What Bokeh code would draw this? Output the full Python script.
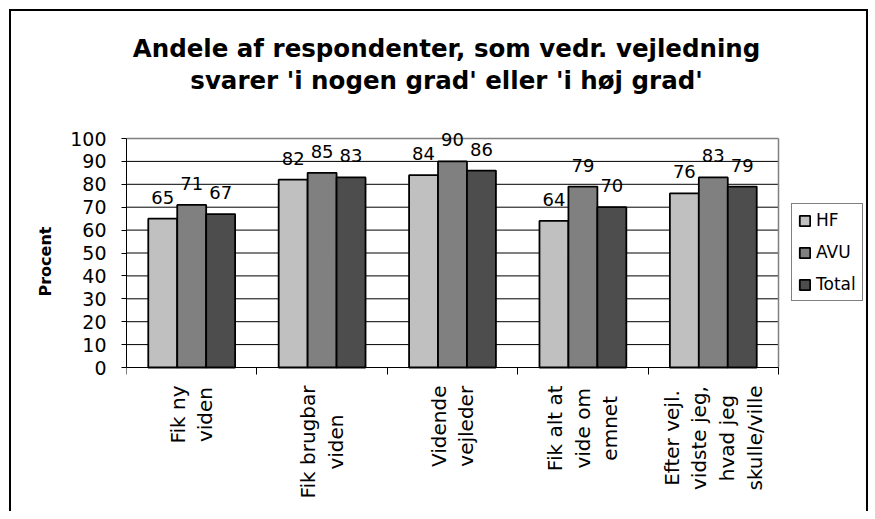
from bokeh.plotting import figure
from bokeh.models import (ColumnDataSource, FixedTicker, Legend, LegendItem,
                          LabelSet, Label)
from bokeh.core.properties import value
from bokeh.transform import dodge
from bokeh.embed import file_html
from bokeh.resources import INLINE
import math

# ---------------- data ----------------
categories = ["Fik ny\nviden", "Fik brugbar\nviden", "Vidende\nvejleder",
              "Fik alt at\nvide om\nemnet", "Efter vejl.\nvidste jeg,\nhvad jeg\nskulle/ville"]
series_names = ["HF", "AVU", "Total"]
hf = [65, 82, 84, 64, 76]
avu = [71, 85, 90, 79, 83]
total = [67, 83, 86, 70, 79]
y_ticks = [0, 10, 20, 30, 40, 50, 60, 70, 80, 90, 100]
title_lines = ["Andele af respondenter, som vedr. vejledning",
               "svarer 'i nogen grad' eller 'i høj grad'"]
y_label = "Procent"
colors = ["#C0C0C0", "#808080", "#4D4D4D"]

# ---------------- layout constants (pixels) ----------------
FONT = "DejaVu Sans"
FRAME_W, FRAME_H = 740, 500
PLOT_W = 652                      # width of the bar area (5 categories)
Y0_FROM_TOP = 356                 # pixel distance from frame top to value 0
PX_Y = 229 / 100.0                # pixels per percent
PX_X = PLOT_W / len(categories)   # pixels per category

xpos = list(range(1, len(categories) + 1))
bounds_x = [xpos[0] - 0.5] + [x + 0.5 for x in xpos]
x_start = bounds_x[0]
x_end = x_start + FRAME_W / PX_X
y_end = Y0_FROM_TOP / PX_Y
y_start = -(FRAME_H - Y0_FROM_TOP) / PX_Y


def y_at_px(px_from_frame_top):
    return (Y0_FROM_TOP - px_from_frame_top) / PX_Y


src = ColumnDataSource(data=dict(
    x=xpos, base=[y_ticks[0]] * len(xpos), cat=categories,
    HF=hf, AVU=avu, Total=total,
    HF_t=[str(v) for v in hf], AVU_t=[str(v) for v in avu], Total_t=[str(v) for v in total],
))

p = figure(frame_width=FRAME_W, frame_height=FRAME_H, x_range=(x_start, x_end),
           y_range=(y_start, y_end), title=None,
           output_backend="svg", toolbar_location=None,
           min_border_left=115, min_border_right=0, min_border_top=0, min_border_bottom=0)
p.styles = {"border-top": "2px solid black", "border-left": "2px solid black",
            "border-right": "2px solid black", "margin-top": "9px", "margin-left": "9px"}
p.outline_line_color = None
p.background_fill_color = "white"
p.border_fill_color = "white"
p.grid.visible = False

# plot-area grid lines (black) and grey border on top / right
inner = y_ticks[1:-1]
p.segment(x0=[bounds_x[0]] * len(inner), x1=[bounds_x[-1]] * len(inner), y0=inner, y1=inner,
          line_color="black", line_width=1)
p.segment(x0=[bounds_x[0], bounds_x[-1]], x1=[bounds_x[-1], bounds_x[-1]],
          y0=[y_ticks[-1], y_ticks[0]], y1=[y_ticks[-1], y_ticks[-1]],
          line_color="#808080", line_width=1.5)

# bars + value labels
w = 0.222
offsets = [-w, 0, w]
renderers = []
for name, col, off in zip(series_names, colors, offsets):
    r = p.vbar(x=dodge("x", off), top=name, width=w, source=src,
               fill_color=col, line_color="black", line_width=1.8)
    renderers.append(r)
    p.add_layout(LabelSet(x=dodge("x", off), y=name, text=name + "_t", source=src,
                          text_align="center", text_baseline="alphabetic", y_offset=15,
                          text_font=value(FONT), text_font_size=value("18px"),
                          text_color="black"))

# category labels (rotated, centre-justified, hanging below the x axis)
p.text(x="x", y="base", text="cat", source=src, angle=math.pi / 2,
       anchor="center_right", text_align="center", text_baseline="middle",
       y_offset=18, text_font=value(FONT), text_font_size=value("20px"),
       text_line_height=1.15, text_color="black")

# title
cx = (xpos[0] + xpos[-1]) / 2
for line, px in zip(title_lines, [48 - 11, 80 - 11]):
    p.add_layout(Label(x=cx, y=y_at_px(px), x_offset=-6, text=line,
                       text_align="center", text_baseline="alphabetic",
                       text_font=FONT, text_font_size="24.5px", text_font_style="bold",
                       text_color="black"))

# y axis
p.yaxis.ticker = FixedTicker(ticks=y_ticks, minor_ticks=[])
p.yaxis.bounds = (y_ticks[0], y_ticks[-1])
p.yaxis.axis_line_color = "black"
p.yaxis.major_tick_out = 5
p.yaxis.major_tick_in = 0
p.yaxis.minor_tick_line_color = None
p.yaxis.major_label_text_font = FONT
p.yaxis.major_label_text_font_size = "19px"
p.yaxis.major_label_text_color = "black"
p.yaxis.major_label_standoff = 15
p.yaxis.axis_label = y_label
p.yaxis.axis_label_text_font = FONT
p.yaxis.axis_label_text_font_size = "16px"
p.yaxis.axis_label_text_font_style = "bold"
p.yaxis.axis_label_text_color = "black"
p.yaxis.axis_label_standoff = 12

# x axis drawn at value 0, ticks at category boundaries
p.xaxis.fixed_location = y_ticks[0]
p.xaxis.bounds = (bounds_x[0], bounds_x[-1])
p.xaxis.ticker = FixedTicker(ticks=[], minor_ticks=bounds_x)
p.xaxis.major_tick_line_color = None
p.xaxis.major_tick_out = 0
p.xaxis.major_tick_in = 0
p.xaxis.major_label_standoff = 0
p.xaxis.major_label_text_font_size = "1px"
p.xaxis.minor_tick_line_color = "black"
p.xaxis.minor_tick_out = 7
p.xaxis.minor_tick_in = 0
p.xaxis.axis_line_color = "black"

legend = Legend(items=[LegendItem(label=n, renderers=[r]) for n, r in zip(series_names, renderers)],
                location=(665, 210), orientation="vertical", margin=0, padding=6,
                spacing=12, label_height=20, glyph_height=13, glyph_width=13,
                label_standoff=5, label_text_font=FONT, label_text_font_size="17px",
                label_text_color="black",
                border_line_color="black", border_line_width=1,
                background_fill_color="white", background_fill_alpha=1)
p.add_layout(legend, "center")

open("out.html", "w").write(file_html(p, INLINE))
